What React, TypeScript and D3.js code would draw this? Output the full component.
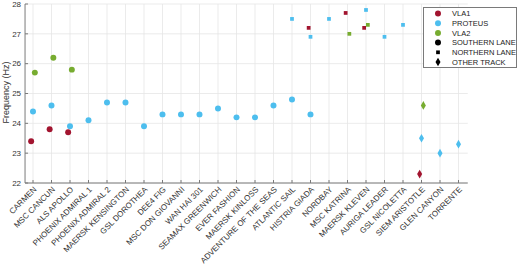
import React from "react";
import * as d3 from "d3";

const ships = [
  "CARMEN", "MSC CANCUN", "ALS APOLLO", "PHOENIX ADMIRAL 1", "PHOENIX ADMIRAL 2",
  "MAERSK KENSINGTON", "GSL DOROTHEA", "DEE4 FIG", "MSC DON GIOVANNI", "WAN HAI 301",
  "SEAMAX GREENWICH", "EVER FASHION", "MAERSK KINLOSS", "ADVENTURE OF THE SEAS",
  "ATLANTIC SAIL", "HISTRIA GIADA", "NORDBAY", "MSC KATRINA", "MAERSK KLEVEN",
  "AURIGA LEADER", "GSL NICOLETTA", "SIEM ARISTOTLE", "GLEN CANYON", "TORRENTE",
];

// lane codes: S = southern lane (circle), N = northern lane (square), O = other track (diamond)
const vla1Ships = ["CARMEN", "MSC CANCUN", "ALS APOLLO", "HISTRIA GIADA", "MSC KATRINA", "MAERSK KLEVEN", "SIEM ARISTOTLE"];
const vla1Values = [23.4, 23.8, 23.7, 27.2, 27.7, 27.2, 22.3];
const vla1Lanes = ["S", "S", "S", "N", "N", "N", "O"];

const proteusShips = [
  "CARMEN", "MSC CANCUN", "ALS APOLLO", "PHOENIX ADMIRAL 1", "PHOENIX ADMIRAL 2",
  "MAERSK KENSINGTON", "GSL DOROTHEA", "DEE4 FIG", "MSC DON GIOVANNI", "WAN HAI 301",
  "SEAMAX GREENWICH", "EVER FASHION", "MAERSK KINLOSS", "ADVENTURE OF THE SEAS",
  "ATLANTIC SAIL", "ATLANTIC SAIL", "HISTRIA GIADA", "HISTRIA GIADA", "NORDBAY",
  "MAERSK KLEVEN", "AURIGA LEADER", "GSL NICOLETTA", "SIEM ARISTOTLE", "GLEN CANYON", "TORRENTE",
];
const proteusValues = [
  24.4, 24.6, 23.9, 24.1, 24.7, 24.7, 23.9, 24.3, 24.3, 24.3, 24.5, 24.2, 24.2, 24.6,
  24.8, 27.5, 24.3, 26.9, 27.5, 27.8, 26.9, 27.3, 23.5, 23.0, 23.3,
];
const proteusLanes = [
  "S", "S", "S", "S", "S", "S", "S", "S", "S", "S", "S", "S", "S", "S",
  "S", "N", "S", "N", "N", "N", "N", "N", "O", "O", "O",
];

const vla2Ships = ["CARMEN", "MSC CANCUN", "ALS APOLLO", "MSC KATRINA", "MAERSK KLEVEN", "SIEM ARISTOTLE"];
const vla2Values = [25.7, 26.2, 25.8, 27.0, 27.3, 24.6];
const vla2Lanes = ["S", "S", "S", "N", "N", "O"];

const yTicks = [22, 23, 24, 25, 26, 27, 28];

const seriesNames = ["VLA1", "PROTEUS", "VLA2"];
const seriesColors = ["#A2142F", "#4DBEEE", "#77AC30"];
const laneNames = ["SOUTHERN LANE", "NORTHERN LANE", "OTHER TRACK"];
const laneCodes = ["S", "N", "O"];

const W = 520;
const H = 270;
const FONT = "'Liberation Sans', Arial, Helvetica, sans-serif";

const x = d3.scaleLinear().domain([0, ships.length - 1]).range([33, 458.5]);
const y = d3.scaleLinear().domain([22, 28]).range([183, 4]);

function Marker({ lane, cx, cy, color }: { lane: string; cx: number; cy: number; color: string }) {
  if (lane === "S") {
    const p = d3.symbol().type(d3.symbolCircle).size(28)();
    return <path d={p || ""} transform={`translate(${cx},${cy})`} fill={color} />;
  }
  if (lane === "N") {
    const p = d3.symbol().type(d3.symbolSquare).size(14)();
    return <path d={p || ""} transform={`translate(${cx},${cy})`} fill={color} />;
  }
  const p = d3.symbol().type(d3.symbolDiamond).size(22)();
  return <path d={p || ""} transform={`translate(${cx},${cy})`} fill={color} />;
}

export default function App() {
  const series = [
    { ships: vla1Ships, values: vla1Values, lanes: vla1Lanes, color: seriesColors[0], off: -0.1 },
    { ships: proteusShips, values: proteusValues, lanes: proteusLanes, color: seriesColors[1], off: 0 },
    { ships: vla2Ships, values: vla2Values, lanes: vla2Lanes, color: seriesColors[2], off: 0.1 },
  ];
  const x0 = x(-0.43);
  const x1 = x(23.5);
  return (
    <svg width={W} height={H} style={{ position: "absolute", left: 0, top: 0, background: "#fff" }}>
      {/* grid */}
      {ships.map((s, i) => (
        <line key={"gx" + i} x1={x(i)} x2={x(i)} y1={y(28)} y2={y(22)} stroke="#e6e6e6" strokeWidth={0.8} />
      ))}
      {yTicks.map((t) => (
        <line key={"gy" + t} x1={x0} x2={x1} y1={y(t)} y2={y(t)} stroke="#e6e6e6" strokeWidth={0.8} />
      ))}
      {/* axes */}
      <line x1={x0} x2={x0} y1={y(28)} y2={y(22)} stroke="#7a7a7a" strokeWidth={1} />
      <line x1={x0} x2={x1} y1={y(22)} y2={y(22)} stroke="#7a7a7a" strokeWidth={1} />
      {yTicks.map((t) => (
        <g key={"yt" + t}>
          <line x1={x0} x2={x0 + 3} y1={y(t)} y2={y(t)} stroke="#7a7a7a" />
          <text x={x0 - 4} y={y(t)} dy="0.35em" textAnchor="end" fontSize={8} fontFamily={FONT} fill="#333">
            {t}
          </text>
        </g>
      ))}
      {ships.map((s, i) => (
        <g key={"xt" + i}>
          <line x1={x(i)} x2={x(i)} y1={y(22)} y2={y(22) - 3} stroke="#7a7a7a" />
          <text
            transform={`translate(${x(i) + 2},${y(22) + 5}) rotate(-45)`}
            dy="0.35em"
            textAnchor="end"
            fontSize={8}
            fontFamily={FONT}
            fill="#333"
          >
            {s}
          </text>
        </g>
      ))}
      <text
        transform={`translate(9,${y(25) - 1}) rotate(-90)`}
        textAnchor="middle"
        fontSize={9}
        fontFamily={FONT}
        fill="#333"
      >
        Frequency (Hz)
      </text>
      {/* points */}
      {series.map((sr, si) =>
        sr.ships.map((s, k) => (
          <Marker
            key={`p${si}-${k}`}
            lane={sr.lanes[k]}
            cx={x(ships.indexOf(s) + sr.off)}
            cy={y(sr.values[k])}
            color={sr.color}
          />
        ))
      )}
      {/* legend */}
      <g>
        <rect x={423.5} y={7.5} width={93} height={60} fill="#fff" stroke="#7a7a7a" strokeWidth={1} />
        {seriesNames.map((n, i) => (
          <g key={"ls" + i}>
            <Marker lane="S" cx={438} cy={13.5 + i * 9.7} color={seriesColors[i]} />
            <text x={452} y={13.5 + i * 9.7} dy="0.35em" fontSize={7.5} fontFamily={FONT} fill="#222">
              {n}
            </text>
          </g>
        ))}
        {laneNames.map((n, i) => (
          <g key={"ll" + i}>
            <Marker lane={laneCodes[i]} cx={438} cy={13.5 + (i + 3) * 9.7} color="#000" />
            <text x={452} y={13.5 + (i + 3) * 9.7} dy="0.35em" fontSize={7.5} fontFamily={FONT} fill="#222">
              {n}
            </text>
          </g>
        ))}
      </g>
    </svg>
  );
}
